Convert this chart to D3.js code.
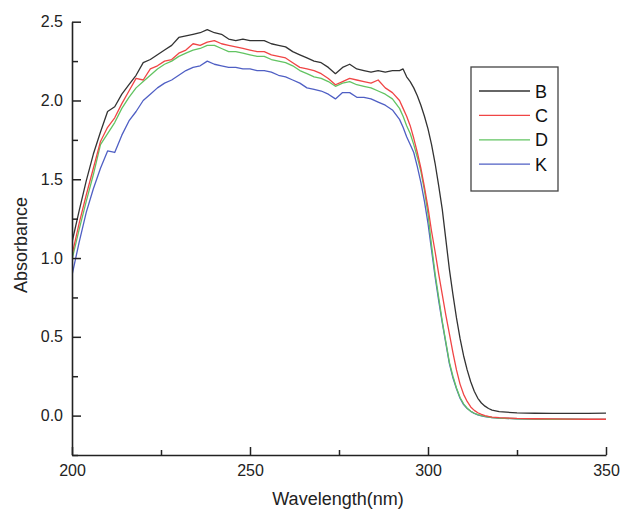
<!DOCTYPE html>
<html>
<head>
<meta charset="utf-8">
<script src="https://cdn.jsdelivr.net/npm/d3@7"></script>
<style>
  html, body { margin: 0; padding: 0; background: #fff; }
  svg { display: block; }
</style>
</head>
<body>
<svg id="chart" width="620" height="511"></svg>
<script>
// ---- data ----
const wavelengths = [200,202,204,206,208,210,212,214,216,218,220,222,224,226,228,230,232,234,236,238,240,242,244,246,248,250,252,254,256,258,260,262,264,266,268,270,272,274,276,278,280,282,284,286,288,290,292,
  293,294,295,296,297,298,299,300,301,302,303,304,305,306,307,308,309,310,311,312,313,314,315,316,317,318,
  320,325,330,335,340,345,350];

const seriesB = [1.10,1.30,1.49,1.66,1.80,1.93,1.96,2.04,2.10,2.16,2.24,2.26,2.29,2.32,2.35,2.40,2.41,2.42,2.43,2.45,2.43,2.42,2.39,2.38,2.39,2.38,2.38,2.38,2.36,2.35,2.34,2.31,2.29,2.27,2.25,2.24,2.21,2.17,2.21,2.23,2.20,2.19,2.18,2.19,2.18,2.19,2.19,
  2.20,2.15,2.12,2.08,2.03,1.97,1.90,1.82,1.72,1.60,1.46,1.31,1.12,0.93,0.77,0.62,0.49,0.38,0.29,0.215,0.155,0.11,0.08,0.06,0.045,0.035,
  0.025,0.017,0.015,0.014,0.014,0.014,0.016];

const seriesC = [1.02,1.22,1.40,1.57,1.74,1.83,1.89,1.98,2.06,2.14,2.13,2.20,2.22,2.25,2.26,2.30,2.32,2.36,2.35,2.37,2.38,2.36,2.35,2.34,2.33,2.32,2.31,2.31,2.29,2.28,2.27,2.24,2.21,2.20,2.19,2.17,2.14,2.10,2.12,2.14,2.13,2.12,2.11,2.13,2.08,2.05,2.00,
  1.95,1.90,1.84,1.76,1.67,1.57,1.45,1.32,1.17,1.04,0.90,0.77,0.64,0.52,0.40,0.29,0.20,0.135,0.09,0.055,0.033,0.018,0.008,0.0,-0.005,-0.009,
  -0.013,-0.018,-0.020,-0.021,-0.022,-0.023,-0.023];

const seriesD = [0.99,1.18,1.36,1.53,1.72,1.79,1.86,1.95,2.02,2.08,2.12,2.16,2.20,2.23,2.25,2.28,2.30,2.32,2.33,2.35,2.35,2.33,2.31,2.31,2.30,2.29,2.28,2.28,2.26,2.25,2.24,2.22,2.19,2.17,2.15,2.14,2.12,2.09,2.11,2.12,2.10,2.09,2.08,2.06,2.04,2.01,1.95,
  1.90,1.84,1.79,1.72,1.64,1.55,1.43,1.28,1.08,0.90,0.75,0.60,0.47,0.34,0.25,0.175,0.115,0.075,0.047,0.028,0.015,0.006,0.0,-0.005,-0.009,-0.012,
  -0.016,-0.020,-0.022,-0.023,-0.023,-0.024,-0.024];

const seriesK = [0.89,1.10,1.29,1.44,1.57,1.68,1.67,1.78,1.87,1.93,2.00,2.04,2.08,2.11,2.13,2.16,2.19,2.21,2.22,2.25,2.23,2.22,2.21,2.21,2.20,2.20,2.19,2.19,2.18,2.16,2.15,2.13,2.11,2.08,2.07,2.06,2.04,2.01,2.05,2.05,2.02,2.02,2.01,1.99,1.97,1.94,1.88,
  1.83,1.77,1.72,1.67,1.58,1.48,1.36,1.22,1.05,0.88,0.73,0.59,0.46,0.33,0.24,0.17,0.11,0.07,0.045,0.027,0.014,0.005,-0.001,-0.006,-0.010,-0.013,
  -0.016,-0.020,-0.022,-0.023,-0.023,-0.024,-0.024];

const seriesNames = ["B", "C", "D", "K"];
const seriesColors = ["#333333", "#f04545", "#62c462", "#4f5fc4"];
const xTicks = [200, 250, 300, 350];
const xMinorTicks = [225, 275, 325];
const yTicks = [0.0, 0.5, 1.0, 1.5, 2.0, 2.5];
const yMinorTicks = [-0.25, 0.25, 0.75, 1.25, 1.75, 2.25];
const xTitle = "Wavelength(nm)";
const yTitle = "Absorbance";

// ---- drawing ----
const svg = d3.select("#chart");
const font = "'Liberation Sans', Arial, sans-serif";
const axisColor = "#222";

const x = d3.scaleLinear().domain([200, 350]).range([72, 606]);
const y = d3.scaleLinear().domain([-0.25, 2.5]).range([455, 21.7]);

const allSeries = [seriesB, seriesC, seriesD, seriesK];

svg.append("defs").append("clipPath").attr("id", "plotclip")
  .append("rect").attr("x", 72).attr("y", 15).attr("width", 534).attr("height", 440);

const line = d3.line()
  .x(d => x(d[0]))
  .y(d => y(d[1]));

const plot = svg.append("g").attr("clip-path", "url(#plotclip)");
[3, 2, 1, 0].forEach(i => {
  const pts = wavelengths.map((w, j) => [w, allSeries[i][j]]);
  plot.append("path")
    .datum(pts)
    .attr("fill", "none")
    .attr("stroke", seriesColors[i])
    .attr("stroke-width", 1.3)
    .attr("stroke-linejoin", "round")
    .attr("d", line);
});

// Axes
function styleAxis(g) {
  g.selectAll("path.domain").attr("stroke", axisColor).attr("stroke-width", 1.6);
  g.selectAll(".tick line").attr("stroke", axisColor).attr("stroke-width", 1.5);
  g.selectAll(".tick text").attr("fill", "#222").style("font-family", font).style("font-size", "16px");
}

const xAxis = svg.append("g").attr("transform", "translate(0,455)")
  .call(d3.axisBottom(x).tickValues(xTicks).tickSizeInner(-8).tickSizeOuter(0).tickPadding(10)
    .tickFormat(d3.format("d")));
styleAxis(xAxis);

const xMinor = svg.append("g").attr("transform", "translate(0,455)")
  .call(d3.axisBottom(x).tickValues(xMinorTicks).tickSizeInner(-5).tickSizeOuter(0).tickFormat(""));
xMinor.select("path.domain").remove();
styleAxis(xMinor);

const yAxis = svg.append("g").attr("transform", "translate(72,0)")
  .call(d3.axisLeft(y).tickValues(yTicks).tickSizeInner(-9).tickSizeOuter(0).tickPadding(9)
    .tickFormat(d3.format(".1f")));
styleAxis(yAxis);

const yMinor = svg.append("g").attr("transform", "translate(72,0)")
  .call(d3.axisLeft(y).tickValues(yMinorTicks).tickSizeInner(-6).tickSizeOuter(0).tickFormat(""));
yMinor.select("path.domain").remove();
styleAxis(yMinor);

// Axis titles
svg.append("text")
  .attr("x", 338).attr("y", 505)
  .attr("text-anchor", "middle")
  .style("font-family", font).style("font-size", "18px").attr("fill", "#222")
  .text(xTitle);

svg.append("text")
  .attr("transform", "translate(27,245) rotate(-90)")
  .attr("text-anchor", "middle")
  .style("font-family", font).style("font-size", "18px").attr("fill", "#222")
  .text(yTitle);

// Legend
const legend = svg.append("g");
legend.append("rect")
  .attr("x", 471).attr("y", 67).attr("width", 87).attr("height", 124)
  .attr("fill", "#fff").attr("stroke", "#444").attr("stroke-width", 1.3);

seriesNames.forEach((name, i) => {
  const ly = 91 + i * 24.4;
  legend.append("line")
    .attr("x1", 479).attr("x2", 530).attr("y1", ly).attr("y2", ly)
    .attr("stroke", seriesColors[i]).attr("stroke-width", 1.3);
  legend.append("text")
    .attr("x", 535).attr("y", ly + 6.5)
    .style("font-family", font).style("font-size", "18px").attr("fill", "#111")
    .text(name);
});
</script>
</body>
</html>
